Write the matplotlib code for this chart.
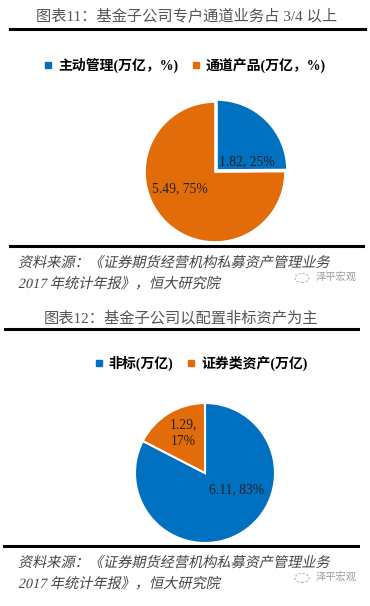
import matplotlib
matplotlib.use('Agg')
import matplotlib.pyplot as plt
from matplotlib.lines import Line2D
from matplotlib.textpath import TextPath
from matplotlib.patches import PathPatch, Ellipse
from matplotlib.font_manager import FontProperties
from matplotlib.transforms import Affine2D, IdentityTransform

# chart 1: fund subsidiaries, active vs channel business
pie1_labels = ['主动管理(万亿，%)', '通道产品(万亿，%)']
pie1_values = [1.82, 5.49]
pie1_pcts = [25, 75]

# chart 2: non-standard vs securities assets
pie2_labels = ['非标(万亿)', '证券类资产(万亿)']
pie2_values = [6.11, 1.29]
pie2_pcts = [83, 17]

title1 = '图表11：基金子公司专户通道业务占 3/4 以上'
title2 = '图表12：基金子公司以配置非标资产为主'
source1 = '资料来源：《证券期货经营机构私募资产管理业务'
source2 = '2017 年统计年报》，恒大研究院'
watermark = '泽平宏观'

colors = ['#0070C0', '#E36C0A']
serif_cjk = ['Liberation Serif', 'Noto Sans CJK SC']
plt.rcParams['font.family'] = ['Noto Sans CJK SC', 'DejaVu Sans']

W, H = 370, 606
fig = plt.figure(figsize=(W / 100, H / 100), dpi=100)
fig.patch.set_facecolor('white')


def fx(px):
    return px / W


def fy(py):
    return 1 - py / H


def hline(y, x0, x1):
    fig.add_artist(Line2D([fx(x0), fx(x1)], [fy(y), fy(y)], color='black', lw=2.2,
                          transform=fig.transFigure))


def pie_axes(cx, cy, r):
    ax = fig.add_axes([fx(cx - r), fy(cy + r), 2 * r / W, 2 * r / H])
    ax.set_xlim(-1, 1)
    ax.set_ylim(-1, 1)
    ax.axis('off')
    return ax


def legend(labels, y, x_center):
    handles = [Line2D([], [], marker='s', ls='', color=c, markersize=4) for c in colors]
    fig.legend(handles, labels, loc='center', bbox_to_anchor=(fx(x_center), fy(y)),
               ncol=2, frameon=False, handlelength=0.6, handletextpad=0.4, columnspacing=1.0,
               prop={'family': serif_cjk, 'weight': 'bold', 'size': 10})


def slanted(x, y, s, size, color):
    # fake italic: shear the glyph outlines (CJK font has no italic face)
    path = TextPath((0, 0), s, size=size, prop=FontProperties(family=serif_cjk))
    tr = Affine2D().skew_deg(12, 0).scale(100 / 72).translate(x, H - y)
    fig.add_artist(PathPatch(path, transform=tr + IdentityTransform(), facecolor=color,
                             edgecolor='none'))


def source(y0):
    slanted(18, y0 + 5, source1, 10.2, '#444444')
    slanted(18, y0 + 26, source2, 10.2, '#444444')
    # little wechat-ish bubble + account name
    fig.add_artist(Ellipse((fx(302), fy(y0 + 16)), 14 / W, 9 / H, transform=fig.transFigure,
                           facecolor='none', edgecolor='#b5b5b5', lw=0.8, ls=(0, (2, 1.5))))
    fig.text(fx(357), fy(y0 + 16), watermark, fontsize=7.4, color='#9a9a9a', va='center', ha='right')


# ---- chart 1 ----
fig.text(fx(187), fy(16), title1, family=serif_cjk, fontsize=11, color='#555555',
         ha='center', va='center')
hline(29, 10, 365)
legend(pie1_labels, 65, 185)

ax1 = pie_axes(215, 172, 70)
ax1.pie(pie1_values, colors=colors, startangle=90, counterclock=False, explode=[0.04, 0],
        radius=1, wedgeprops={'edgecolor': 'white', 'linewidth': 1.2})
ax1.set_xlim(-1, 1)
ax1.set_ylim(-1, 1)
lab1_pos = [(0.46, 0.15), (-0.5, -0.24)]
for v, p, (x, y) in zip(pie1_values, pie1_pcts, lab1_pos):
    ax1.text(x, y, f'{v:.2f}, {p}%', family='Liberation Serif', fontsize=9.8,
             ha='center', va='center', color='#222222')

hline(246, 10, 363)
source(262)

# ---- chart 2 ----
fig.text(fx(181), fy(318), title2, family=serif_cjk, fontsize=11, color='#555555',
         ha='center', va='center')
hline(329, 5, 358)
legend(pie2_labels, 363, 201)

ax2 = pie_axes(205, 473, 70)
ax2.pie(pie2_values, colors=colors, startangle=90, counterclock=False,
        radius=1, wedgeprops={'edgecolor': 'white', 'linewidth': 1.5})
ax2.set_xlim(-1, 1)
ax2.set_ylim(-1, 1)
lab2_pos = [(0.45, -0.24), (-0.31, 0.57)]
lab2_fmt = ['{v:.2f}, {p}%', '{v:.2f},\n{p}%']
for v, p, (x, y), f in zip(pie2_values, pie2_pcts, lab2_pos, lab2_fmt):
    ax2.text(x, y, f.format(v=v, p=p), family='Liberation Serif', fontsize=9.8,
             ha='center', va='center', color='#222222', linespacing=1.3)

hline(546, 4, 358)
source(562)

fig.savefig('out.png', dpi=100)
